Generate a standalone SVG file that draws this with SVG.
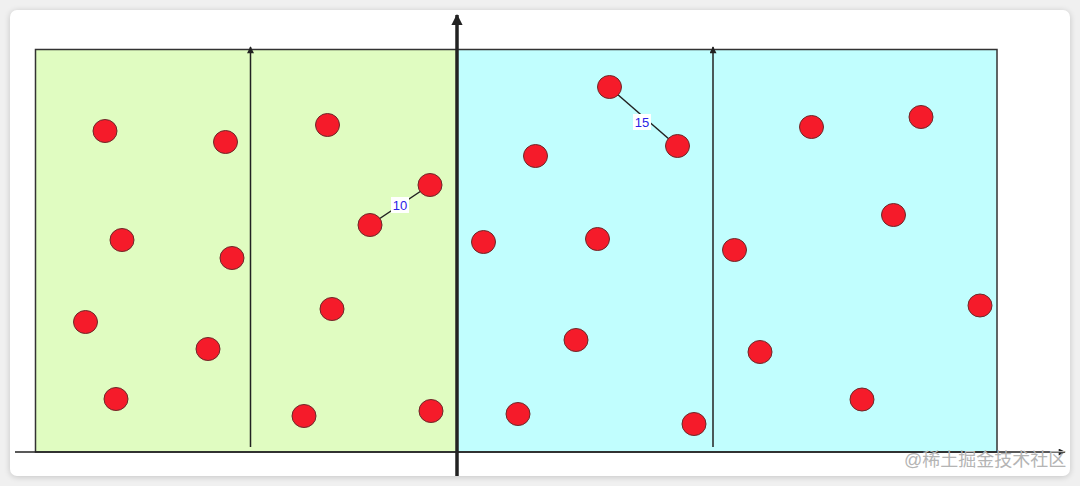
<svg xmlns="http://www.w3.org/2000/svg" width="1080" height="486" viewBox="0 0 1080 486">
<style>
.dot{fill:#f51b2a;stroke:#6b2a2a;stroke-width:1}
.lbl{font-family:"Liberation Sans",Arial,sans-serif;font-size:13px;fill:#2b22e6;text-anchor:middle;dominant-baseline:central}
.wm{font-family:"Liberation Sans","Noto Sans CJK SC",sans-serif;font-size:18px;fill:#b4b4b4}
</style>
<defs>
<filter id="sh" x="-5%" y="-5%" width="110%" height="110%"><feGaussianBlur stdDeviation="3"/></filter>
<marker id="ahT" viewBox="0 0 10 10" refX="9" refY="5" markerWidth="4" markerHeight="3.2" orient="auto"><path d="M0,0 L10,5 L0,10 z" fill="#222"/></marker>
<marker id="ah" viewBox="0 0 10 10" refX="9" refY="5" markerWidth="10" markerHeight="7" orient="auto" markerUnits="userSpaceOnUse"><path d="M0,0 L10,5 L0,10 z" fill="#222"/></marker>
<marker id="ahS" viewBox="0 0 10 10" refX="9" refY="5" markerWidth="11" markerHeight="7" orient="auto" markerUnits="userSpaceOnUse"><path d="M0,0 L10,5 L0,10 z" fill="#222"/></marker>
</defs>
<rect width="1080" height="486" fill="#f0f0f0"/>
<rect x="10" y="11" width="1060" height="466" rx="7" fill="#000" opacity="0.18" filter="url(#sh)"/>
<rect x="10" y="10" width="1060" height="466" rx="7" fill="#ffffff"/>
<g id="regions">
<rect id="left" x="35.5" y="49.5" width="421.5" height="402.5" fill="#e0fcc1" stroke="#333" stroke-width="1.5"/>
<rect id="right" x="457" y="49.5" width="540" height="402.5" fill="#c1fefe" stroke="#333" stroke-width="1.5"/>
</g>
<g id="connectors" stroke="#222" fill="none">
<line x1="15" y1="452" x2="1065" y2="452" stroke-width="1.5" marker-end="url(#ahS)"/>
<line x1="457" y1="476" x2="457" y2="15" stroke-width="3.5" marker-end="url(#ahT)"/>
<line x1="250.5" y1="447" x2="250.5" y2="47" stroke-width="1.5" marker-end="url(#ah)"/>
<line x1="713" y1="447" x2="713" y2="47" stroke-width="1.5" marker-end="url(#ah)"/>
<line x1="370" y1="225" x2="430" y2="185" stroke-width="1.5"/>
<line x1="609" y1="87" x2="677" y2="146" stroke-width="1.5"/>
</g>
<g id="dots">
<ellipse class="dot" cx="105" cy="131" rx="12" ry="11.5"/>
<ellipse class="dot" cx="225.5" cy="142" rx="12" ry="11.5"/>
<ellipse class="dot" cx="327.5" cy="125" rx="12" ry="11.5"/>
<ellipse class="dot" cx="430" cy="185" rx="12" ry="11.5"/>
<ellipse class="dot" cx="370" cy="225" rx="12" ry="11.5"/>
<ellipse class="dot" cx="122" cy="240" rx="12" ry="11.5"/>
<ellipse class="dot" cx="232" cy="258" rx="12" ry="11.5"/>
<ellipse class="dot" cx="85.5" cy="322" rx="12" ry="11.5"/>
<ellipse class="dot" cx="208" cy="349" rx="12" ry="11.5"/>
<ellipse class="dot" cx="116" cy="399" rx="12" ry="11.5"/>
<ellipse class="dot" cx="332" cy="309" rx="12" ry="11.5"/>
<ellipse class="dot" cx="304" cy="416" rx="12" ry="11.5"/>
<ellipse class="dot" cx="431" cy="411" rx="12" ry="11.5"/>
<ellipse class="dot" cx="535.5" cy="156" rx="12" ry="11.5"/>
<ellipse class="dot" cx="483.5" cy="242" rx="12" ry="11.5"/>
<ellipse class="dot" cx="597.5" cy="239" rx="12" ry="11.5"/>
<ellipse class="dot" cx="609.5" cy="87" rx="12" ry="11.5"/>
<ellipse class="dot" cx="677.5" cy="146" rx="12" ry="11.5"/>
<ellipse class="dot" cx="576" cy="340" rx="12" ry="11.5"/>
<ellipse class="dot" cx="518" cy="414" rx="12" ry="11.5"/>
<ellipse class="dot" cx="694" cy="424" rx="12" ry="11.5"/>
<ellipse class="dot" cx="811.5" cy="127" rx="12" ry="11.5"/>
<ellipse class="dot" cx="921" cy="117" rx="12" ry="11.5"/>
<ellipse class="dot" cx="893.5" cy="215" rx="12" ry="11.5"/>
<ellipse class="dot" cx="734.5" cy="250" rx="12" ry="11.5"/>
<ellipse class="dot" cx="980" cy="305.5" rx="12" ry="11.5"/>
<ellipse class="dot" cx="760" cy="352" rx="12" ry="11.5"/>
<ellipse class="dot" cx="862" cy="399.5" rx="12" ry="11.5"/>
</g>
<g id="label10">
<rect x="391" y="197" width="18" height="16" fill="#fff"/>
<text class="lbl" x="400" y="205.5">10</text>
</g>
<g id="label15">
<rect x="633" y="114" width="18" height="16" fill="#fff"/>
<text class="lbl" x="642" y="122.5">15</text>
</g>
<text class="wm" x="904" y="466">@稀土掘金技术社区</text>
</svg>
